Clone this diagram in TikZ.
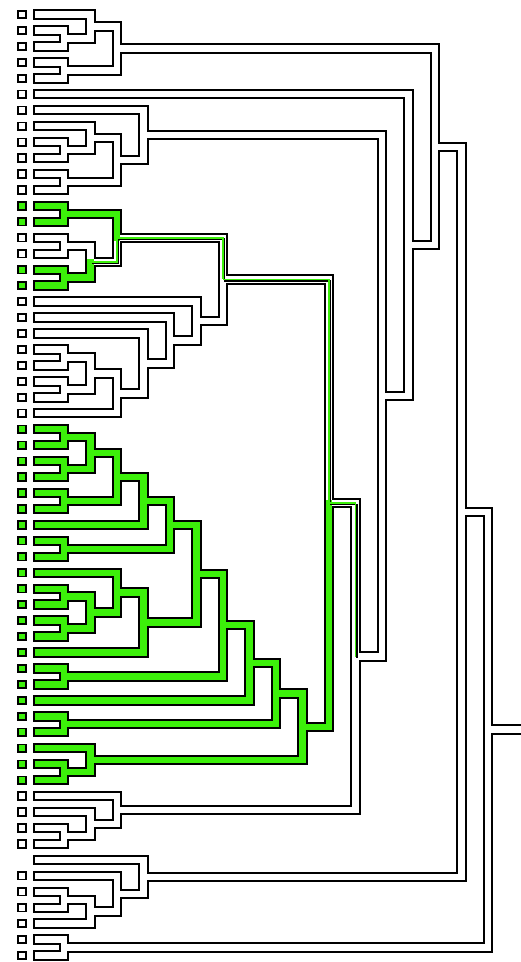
\documentclass[tikz,border=0pt]{standalone}
\usetikzlibrary{calc}
\definecolor{dgGreen}{RGB}{60,240,10}
% join two clades: name, first child, second child, level
\newcommand\jn[4]{\path let \p1=($(#2)!.5!(#3)$) in coordinate (#1) at ({64pt+(#4-1)*26.5pt},\y1);}

\begin{document}
\begin{tikzpicture}[x=1pt, y=-1pt,
  bk/.style={line width=10.4pt, line cap=rect, draw=black},
  fl/.style={line width=6.4pt, line cap=rect, draw=#1},
  sq/.style={draw, line width=1.8pt, minimum size=7.4pt, inner sep=0pt, fill=#1},
  sq/.default=white,
  trail/.style={line width=1.6pt, draw=dgGreen},
  trailbk/.style={line width=1.8pt, draw=black},
]
\useasboundingbox (0,0) rectangle (520,962);
% leaves
\foreach \i in {1,...,60}
  \coordinate (l\i) at (38.3,{14.5+(\i-1)*15.95});
\foreach \i in {1,2,...,12,15,16,19,20,...,26,50,51,...,53,55,56,...,60}
  \node[sq] (s\i) at ([xshift=-16.3pt]l\i) {};
\foreach \i in {13,14,17,18,27,28,...,49}
  \node[sq=dgGreen] (s\i) at ([xshift=-16.3pt]l\i) {};

% clades 1--12
\jn{a1}{l2}{l3}{1} \jn{a2}{l1}{a1}{2} \jn{a3}{l4}{l5}{1} \jn{a4}{a2}{a3}{3}
\jn{b1}{l9}{l10}{1} \jn{b2}{l8}{b1}{2} \jn{b3}{l11}{l12}{1}
\jn{b4}{b2}{b3}{3} \jn{b5}{l7}{b4}{4}
% clades 13--26
\jn{c1}{l13}{l14}{1} \jn{c2}{l15}{l16}{1} \jn{c3}{l17}{l18}{1}
\jn{c4}{c2}{c3}{2} \jn{c5}{c1}{c4}{3}
\jn{d1}{l22}{l23}{1} \jn{d2}{l24}{l25}{1} \jn{d3}{d1}{d2}{2}
\jn{d4}{d3}{l26}{3} \jn{d5}{l21}{d4}{4} \jn{d6}{l20}{d5}{5} \jn{d7}{l19}{d6}{6}
\jn{cd}{c5}{d7}{7}
% clades 27--49
\jn{e1}{l27}{l28}{1} \jn{e2}{l29}{l30}{1} \jn{e3}{e1}{e2}{2} \jn{e4}{l31}{l32}{1}
\jn{e5}{e3}{e4}{3} \jn{e6}{e5}{l33}{4} \jn{e7}{l34}{l35}{1} \jn{e8}{e6}{e7}{5}
\jn{e9}{l37}{l38}{1} \jn{e10}{l39}{l40}{1} \jn{e11}{e9}{e10}{2}
\jn{e12}{l36}{e11}{3} \jn{e13}{e12}{l41}{4} \jn{e14}{e8}{e13}{6}
\jn{e15}{l42}{l43}{1} \jn{e16}{e14}{e15}{7} \jn{e17}{e16}{l44}{8}
\jn{e18}{l45}{l46}{1} \jn{e19}{e17}{e18}{9}
\jn{e20}{l48}{l49}{1} \jn{e21}{l47}{e20}{2} \jn{e22}{e19}{e21}{10}
\jn{f1}{cd}{e22}{11}
% clades 50--60 and the top levels
\jn{g1}{l52}{l53}{1} \jn{g2}{l51}{g1}{2} \jn{g3}{l50}{g2}{3}
\jn{f2}{f1}{g3}{12} \jn{t13}{b5}{f2}{13} \jn{t14}{l6}{t13}{14} \jn{t15}{a4}{t14}{15}
\jn{h1}{l56}{l57}{1} \jn{h2}{h1}{l58}{2} \jn{h3}{l55}{h2}{3} \jn{h4}{l54}{h3}{4}
\jn{t16}{t15}{h4}{16} \jn{h5}{l59}{l60}{1} \jn{root}{t16}{h5}{17}
\path (root) ++(40,0) coordinate (tip);

\def\plain{l1/a2, l2/a1, l3/a1, a1/a2, l4/a3, l5/a3, a2/a4, a3/a4, a4/t15, l6/t14,
  l7/b5, l8/b2, l9/b1, l10/b1, b1/b2, b2/b4, l11/b3, l12/b3, b3/b4, b4/b5, b5/t13,
  l15/c2, l16/c2, c2/c4, l19/d7, l20/d6, l21/d5, l22/d1, l23/d1, l24/d2, l25/d2,
  d1/d3, d2/d3, d3/d4, l26/d4, d4/d5, d5/d6, d6/d7, d7/cd,
  l50/g3, l51/g2, l52/g1, l53/g1, g1/g2, g2/g3, g3/f2,
  f2/t13, t13/t14, t14/t15, t15/t16, l54/h4, l55/h3, l56/h1, l57/h1, h1/h2, l58/h2,
  h2/h3, h3/h4, h4/t16, t16/root, l59/h5, l60/h5, h5/root, root/tip}
\def\part{c4/c5, c5/cd, cd/f1, f1/f2}
\def\lit{l13/c1, l14/c1, c1/c5, l17/c3, l18/c3, c3/c4,
  l27/e1, l28/e1, l29/e2, l30/e2, e1/e3, e2/e3, l31/e4, l32/e4, e3/e5, e4/e5,
  e5/e6, l33/e6, l34/e7, l35/e7, e6/e8, e7/e8, l37/e9, l38/e9, l39/e10, l40/e10,
  e9/e11, e10/e11, l36/e12, e11/e12, e12/e13, l41/e13, e8/e14, e13/e14,
  l42/e15, l43/e15, e14/e16, e15/e16, e16/e17, l44/e17, l45/e18, l46/e18,
  e17/e19, e18/e19, l48/e20, l49/e20, l47/e21, e20/e21, e19/e22, e21/e22, e22/f1}

% outlines first, then the insides
\foreach \c/\p in \plain {\draw[bk] (\c) -| (\p);}
\foreach \c/\p in \part {\draw[bk] (\c) -| (\p);}
\foreach \c/\p in \lit {\draw[bk] (\c) -| (\p);}
\foreach \c/\p in \plain {\draw[fl=white] (\c) -| (\p);}
\foreach \c/\p in \part {\draw[fl=white] (\c) -| (\p);}
\foreach \c/\p in \lit {\draw[fl=dgGreen] (\c) -| (\p);}
% trail through the mixed clades
\foreach \c/\p in \part {\draw[trailbk] ([shift={(1.4,1.4)}]\c) -| ([shift={(1.4,1.4)}]\p);}
\foreach \c/\p in \part {\draw[trail] (\c) -| (\p);}
\end{tikzpicture}
\end{document}
